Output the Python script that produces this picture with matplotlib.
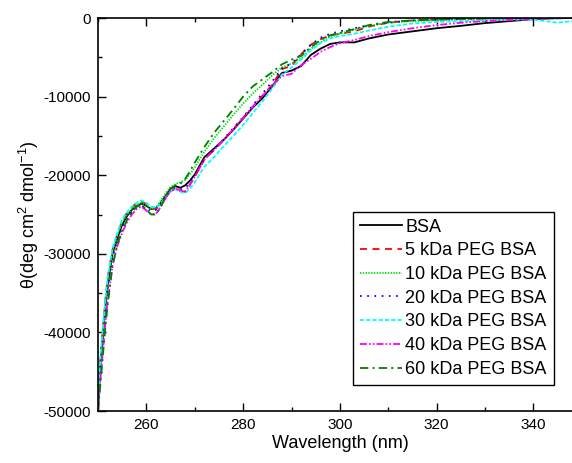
import matplotlib
matplotlib.use("Agg")
import matplotlib.pyplot as plt
from matplotlib.ticker import MultipleLocator

plt.rcParams['font.family'] = ['Liberation Sans', 'DejaVu Sans']
plt.rcParams['mathtext.fontset'] = 'custom'
plt.rcParams['mathtext.rm'] = 'Liberation Sans'
plt.rcParams['mathtext.it'] = 'Liberation Sans:italic'
plt.rcParams['lines.scale_dashes'] = False
plt.rcParams['axes.unicode_minus'] = False

wavelength = [250, 250.5, 251, 251.5, 252, 253, 254, 255, 256, 257, 258, 259, 260, 261, 262, 263,
              264, 265, 266, 267, 268, 269, 270, 272, 274, 276, 278, 280, 282, 284, 286, 288,
              290, 292, 294, 296, 298, 300, 303, 306, 310, 315, 320, 325, 330, 335, 340, 345, 348]

bsa = [-50000, -44000, -40500, -37000, -34000, -30000, -28000, -26300, -25200, -24400, -23900, -23600,
       -23900, -24300, -24200, -23500, -22600, -21700, -21400, -21600, -21300, -20700, -19900, -17700,
       -16600, -15500, -14200, -12800, -11400, -10200, -8700, -7000, -6700, -6100, -4700, -3900, -3300,
       -3100, -3100, -2600, -2100, -1700, -1300, -1000, -650, -400, -150, 0, 0]

peg5 = [-49000, -43000, -39500, -36000, -33000, -29500, -27500, -25800, -24800, -24100, -23500, -23300,
        -23700, -24200, -24300, -23800, -22900, -22000, -21800, -22000, -22100, -21200, -20200, -18000,
        -16800, -15500, -14100, -12700, -11300, -9900, -8500, -6500, -6100, -4600, -3400, -2700, -2200,
        -2000, -1700, -1100, -600, -300, -200, -100, -50, 0, 0, 0, 0]

peg10 = [-49500, -43500, -40000, -36500, -33500, -29800, -27700, -26000, -25000, -24300, -23800, -23500,
         -23800, -24300, -24100, -23200, -22300, -21500, -21100, -20900, -20600, -19900, -19000, -17000,
         -15300, -13800, -12300, -10900, -9600, -8500, -7300, -6300, -5800, -5100, -3900, -3100, -2400,
         -2000, -1500, -1000, -600, -400, -300, -200, -150, -100, -50, -50, 0]

peg20 = [-50000, -44500, -41000, -37500, -34500, -30500, -28300, -26600, -25500, -24700, -24100, -23900,
         -24200, -24600, -24400, -23700, -22800, -21900, -21600, -21800, -21700, -20900, -20000, -17900,
         -16700, -15400, -14000, -12600, -11100, -9600, -8100, -6400, -5800, -4600, -3400, -2500, -2000,
         -1700, -1300, -900, -600, -300, -200, -100, -50, 0, 0, 0, 0]

peg30 = [-49000, -43000, -39500, -36000, -33000, -29300, -27300, -25600, -24700, -24000, -23500, -23200,
         -23500, -24000, -24100, -23600, -22800, -22000, -21800, -22100, -22300, -21700, -20900, -18900,
         -17700, -16300, -15000, -13600, -12100, -10600, -9000, -7200, -6300, -5300, -4100, -3200, -2600,
         -2300, -2000, -1600, -1100, -700, -500, -400, -300, -200, -200, -600, -400]

peg40 = [-50000, -46000, -42500, -39000, -36000, -31500, -29000, -27300, -26000, -25000, -24300, -24000,
         -24500, -25000, -24900, -24000, -22900, -22000, -21700, -21900, -22100, -21200, -20200, -18000,
         -16800, -15500, -14100, -12700, -11300, -9900, -8600, -7400, -7100, -6000, -5200, -4300, -3700,
         -3200, -2800, -2300, -1800, -1300, -900, -600, -400, -250, -100, -50, 0]

peg60 = [-50000, -46500, -43000, -39500, -36500, -31500, -28800, -27000, -25700, -24700, -24000, -23800,
         -24400, -25000, -25000, -24000, -22700, -21700, -21300, -21100, -20500, -19500, -18400, -16400,
         -14600, -13100, -11600, -10000, -8700, -7800, -6900, -5900, -5300, -4800, -3700, -2800, -2200,
         -1900, -1400, -900, -500, -300, -200, -100, -50, 0, 0, 0, 0]

labels = ['BSA', '5 kDa PEG BSA', '10 kDa PEG BSA', '20 kDa PEG BSA',
          '30 kDa PEG BSA', '40 kDa PEG BSA', '60 kDa PEG BSA']
series = [bsa, peg5, peg10, peg20, peg30, peg40, peg60]
colors = ['#000000', '#FF0000', '#00E000', '#0000FF', '#00FFFF', '#FF00FF', '#008000']
styles = ['-', (0, (5, 4)), (0, (1, 1)), (0, (1.2, 4)), (0, (3, 1.5)),
          (0, (5, 1.5, 1.2, 1.5, 1.2, 1.5)), (0, (6, 3, 1.5, 3))]

fig = plt.figure(figsize=(5.72, 4.63), dpi=100)
W, H = 572, 463
ax = fig.add_axes([98 / W, (H - 411) / H, 483.75 / W, 393 / H])

for y, lab, c, ls in zip(series, labels, colors, styles):
    ax.plot(wavelength, y, color=c, linestyle=ls, linewidth=1.3, label=lab)

ax.set_xlim(250, 350)
ax.set_ylim(-50000, 0)
ax.xaxis.set_major_locator(MultipleLocator(20))
ax.xaxis.set_minor_locator(MultipleLocator(10))
ax.yaxis.set_major_locator(MultipleLocator(10000))
ax.yaxis.set_minor_locator(MultipleLocator(5000))
ax.tick_params(which='both', direction='in', top=True, right=True, labelsize=11, width=1.0)
ax.tick_params(axis='y', pad=5)
ax.tick_params(axis='x', pad=5)
ax.tick_params(which='major', length=5.5)
ax.tick_params(which='minor', length=3)
for s in ax.spines.values():
    s.set_linewidth(1.2)

ax.set_xlabel('Wavelength (nm)', fontsize=13, labelpad=2)
ax.set_ylabel(r'θ(deg cm$^{2}$ dmol$^{-1}$)', fontsize=13, labelpad=2)

leg = ax.legend(loc='lower left', bbox_to_anchor=(0.527, 0.066), borderaxespad=0, fontsize=13,
                frameon=True, fancybox=False, edgecolor='black', framealpha=1,
                handlelength=2.3, handletextpad=0.2, labelspacing=0.37, borderpad=0.4)
leg.get_frame().set_linewidth(1.0)

fig.savefig('out.png', dpi=100)
